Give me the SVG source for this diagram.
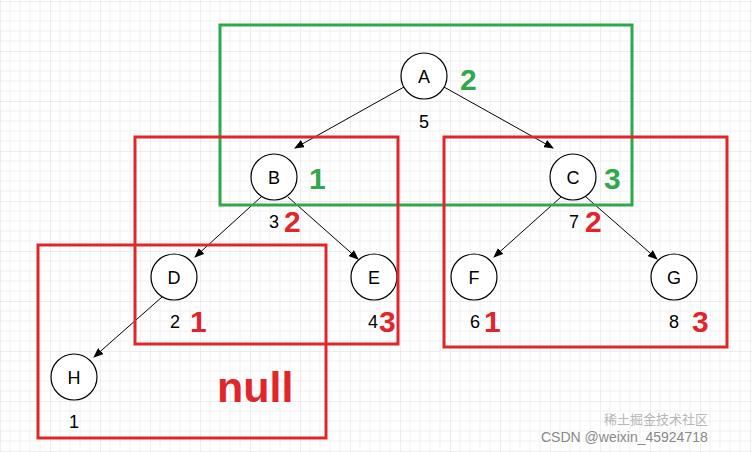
<svg xmlns="http://www.w3.org/2000/svg" width="752" height="452" viewBox="0 0 752 452">
<defs>
<pattern id="g" width="50" height="50" patternUnits="userSpaceOnUse" x="0" y="1">
<path d="M10 0V50M20 0V50M30 0V50M40 0V50M0 10H50M0 20H50M0 30H50M0 40H50" stroke="#f0f0f0" stroke-width="1"/>
<path d="M0 0V50M0 0H50" stroke="#dcdcdc" stroke-width="1"/>
</pattern>
<marker id="ar" markerWidth="10" markerHeight="8" refX="9" refY="4" orient="auto" markerUnits="userSpaceOnUse"><path d="M0 0L10 4L0 8Z" fill="#000"/></marker>
</defs>
<style>
.n circle{fill:#fff;stroke:#000;stroke-width:1.2}
.n text{font-family:"Liberation Sans",Arial,sans-serif;font-size:18px;text-anchor:middle}
.w{font-family:"Liberation Sans",Arial,sans-serif;font-size:17px;text-anchor:middle}
.r{font-family:"Liberation Sans",Arial,sans-serif;font-weight:bold;font-size:30px;fill:#e0262b}
.gr{font-family:"Liberation Sans",Arial,sans-serif;font-weight:bold;font-size:30px;fill:#2ea84a}
.bx{fill:none;stroke-width:3}
#edges line{stroke:#000;stroke-width:1;marker-end:url(#ar)}
</style>
<rect width="752" height="452" fill="#fff"/>
<rect width="752" height="452" fill="url(#g)"/>
<g id="edges">
<line x1="404" y1="87" x2="295" y2="148"/>
<line x1="444" y1="87" x2="553" y2="148"/>
<line x1="261" y1="197" x2="195" y2="257"/>
<line x1="288" y1="197" x2="358" y2="259"/>
<line x1="561" y1="197" x2="494" y2="257"/>
<line x1="586" y1="197" x2="657" y2="259"/>
<line x1="162" y1="297" x2="94" y2="357"/>
</g>
<g id="A" class="n"><circle cx="424" cy="76" r="23"/><text x="424" y="83">A</text><text class="w" x="424" y="128">5</text></g>
<g id="B" class="n"><circle cx="274" cy="177" r="23"/><text x="274" y="184">B</text><text class="w" x="274" y="228">3</text></g>
<g id="C" class="n"><circle cx="573" cy="177" r="23"/><text x="573" y="184">C</text><text class="w" x="574" y="228">7</text></g>
<g id="D" class="n"><circle cx="174" cy="277" r="23"/><text x="174" y="284">D</text><text class="w" x="175" y="328">2</text></g>
<g id="E" class="n"><circle cx="374" cy="277" r="23"/><text x="374" y="284">E</text><text class="w" x="373" y="328">4</text></g>
<g id="F" class="n"><circle cx="474" cy="277" r="23"/><text x="474" y="284">F</text><text class="w" x="475" y="328">6</text></g>
<g id="G" class="n"><circle cx="674" cy="277" r="23"/><text x="674" y="284">G</text><text class="w" x="674" y="328">8</text></g>
<g id="H" class="n"><circle cx="74" cy="377" r="23"/><text x="74" y="384">H</text><text class="w" x="74" y="428">1</text></g>
<rect class="bx" x="220" y="25" width="412" height="180" stroke="#2ea84a"/>
<rect class="bx" x="135" y="137" width="263" height="207" stroke="#e0262b"/>
<rect class="bx" x="444" y="137" width="283" height="210" stroke="#e0262b"/>
<rect class="bx" x="38" y="245" width="288" height="193" stroke="#e0262b"/>
<text class="gr" x="460" y="90">2</text>
<text class="gr" x="309" y="189">1</text>
<text class="gr" x="604" y="189">3</text>
<text class="r" x="284" y="232">2</text>
<text class="r" x="190" y="332">1</text>
<text class="r" x="379" y="332">3</text>
<text class="r" x="585" y="232">2</text>
<text class="r" x="484" y="332">1</text>
<text class="r" x="692" y="332">3</text>
<text class="r" x="217" y="402" style="font-size:43px">null</text>
<text x="604" y="424" font-family="'Noto Sans CJK SC',sans-serif" font-size="13" fill="#999" opacity="0.7">稀土掘金技术社区</text>
<text x="541" y="442" font-family="'Liberation Sans',Arial,sans-serif" font-size="14" fill="#888">CSDN @weixin_45924718</text>
</svg>
